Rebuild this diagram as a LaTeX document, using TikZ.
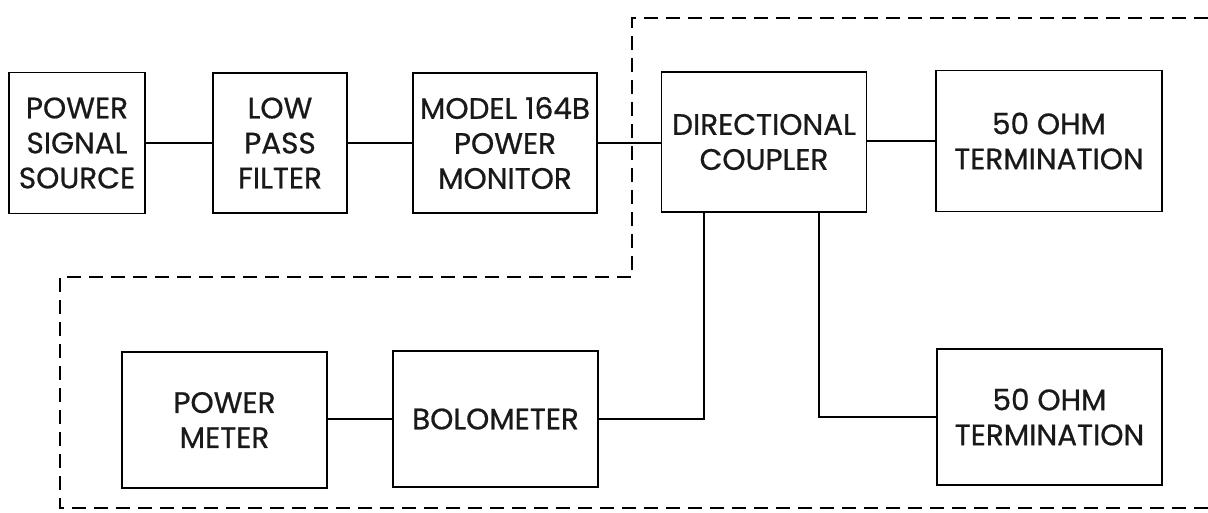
\documentclass[tikz,border=0pt]{standalone}
\usepackage{fontspec}
\setmainfont{Poppins}[FakeBold=0.7]
\begin{document}
\begin{tikzpicture}[x=1pt,y=-1pt,
  blk/.style={draw, line width=1.6pt, inner sep=0pt, align=center,
    text=black!90, font=\fontsize{29.5}{35}\selectfont},
  wire/.style={line width=1.5pt},
  bound/.style={line width=1.8pt, dash pattern=on 14pt off 8pt}]
\useasboundingbox (0,0) rectangle (1208,513);
\node[blk, minimum width=136pt, minimum height=141pt] (pss) at (77,143) {POWER\\SIGNAL\\SOURCE};
\node[blk, minimum width=134pt, minimum height=140pt] (lpf) at (280,143) {LOW\\PASS\\FILTER};
\node[blk, minimum width=184pt, minimum height=140pt] (mon) at (505,143) {MODEL 164B\\POWER\\MONITOR};
\node[blk, minimum width=205pt, minimum height=140pt] (dc) at (764,142) {DIRECTIONAL\\COUPLER};
\node[blk, minimum width=226pt, minimum height=141pt] (t1) at (1049,141) {50 OHM\\TERMINATION};
\node[blk, minimum width=205pt, minimum height=136pt] (pm) at (224.5,420) {POWER\\METER};
\node[blk, minimum width=205pt, minimum height=136pt] (bol) at (495.5,419) {BOLOMETER};
\node[blk, minimum width=225pt, minimum height=136pt] (t2) at (1049.5,417) {50 OHM\\TERMINATION};
\coordinate (c1) at (704,212);
\coordinate (c2) at (819,212);
\draw[wire] (pss.east) -- (lpf.west);
\draw[wire] (lpf.east) -- (mon.west);
\draw[wire] (mon.east) -- (mon.east -| dc.west);
\draw[wire] (dc.east |- t1.west) -- (t1.west);
\draw[wire] (bol.west) -- (bol.west -| pm.east);
\draw[wire] (c1) |- (bol.east);
\draw[wire] (c2) |- (t2.west);
\coordinate (b0) at (1208,18);
\coordinate (b1) at (632,18);
\coordinate (b2) at (632,277);
\coordinate (b3) at (60,277);
\coordinate (b4) at (60,508);
\coordinate (b5) at (1208,508);
\draw[bound] (b0) -- (b1) -- (b2) -- (b3) -- (b4) -- (b5);
\end{tikzpicture}
\end{document}
